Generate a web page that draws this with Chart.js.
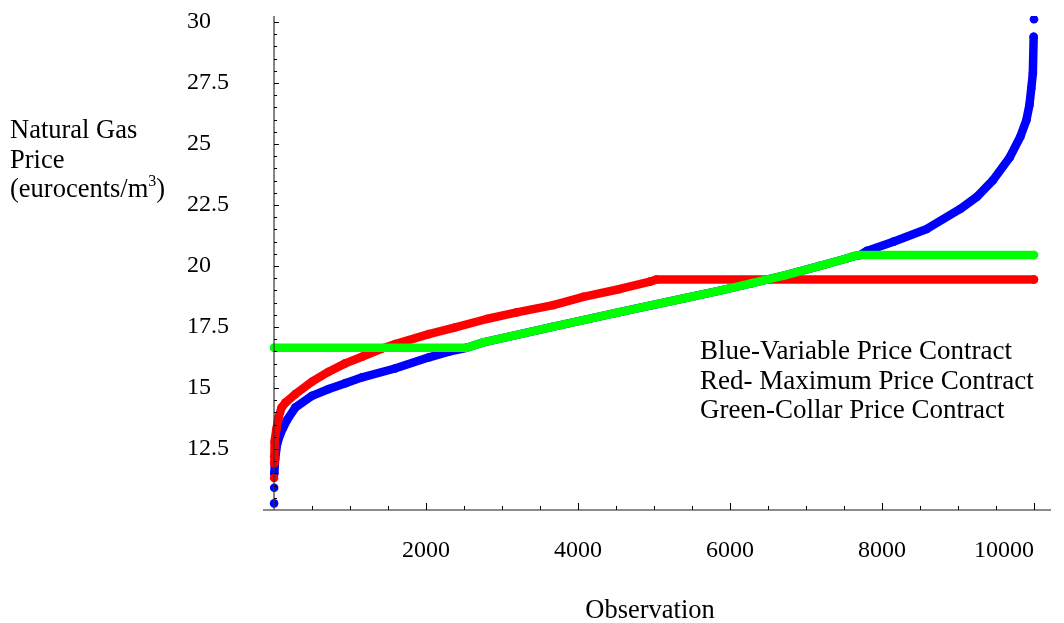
<!DOCTYPE html>
<html>
<head>
<meta charset="utf-8">
<script src="https://cdn.jsdelivr.net/npm/chart.js@4.4.0/dist/chart.umd.min.js"></script>
<style>
  html, body { margin: 0; padding: 0; background: #fff; }
  #wrap { width: 1064px; height: 623px; }
</style>
</head>
<body>
<div id="wrap"><canvas id="myChart" width="1064" height="623"></canvas></div>
<script>
// sorted prices per observation
var blueX = [1, 2, 4, 15, 40, 80, 118, 171, 280, 500, 720, 940, 1160, 1590, 2040, 2300, 2535, 2754, 3650, 4530, 5400, 5868, 6290, 6720, 7184, 7535, 7622, 7710, 7800, 8150, 8590, 9030, 9250, 9460, 9680, 9820, 9900, 9940, 9965, 9985, 9996, 10000];
var blueY = [10.27, 10.91, 11.5, 12.1, 12.7, 13.1, 13.36, 13.69, 14.2, 14.68, 14.96, 15.2, 15.44, 15.8, 16.26, 16.49, 16.65, 16.87, 17.5, 18.1, 18.68, 18.99, 19.3, 19.62, 20.01, 20.31, 20.4, 20.45, 20.62, 21.0, 21.52, 22.34, 22.84, 23.52, 24.45, 25.3, 25.98, 26.6, 27.3, 27.9, 29.4, 30.12];

var redX = [1, 2, 3, 10, 30, 60, 100, 150, 280, 500, 720, 938, 1158, 1421, 1596, 2036, 2386, 2798, 3193, 3675, 4070, 4553, 4947, 5030, 10000];
var redY = [11.31, 11.93, 12.2, 12.8, 13.3, 13.8, 14.2, 14.4, 14.75, 15.26, 15.67, 16.01, 16.28, 16.62, 16.8, 17.21, 17.49, 17.83, 18.1, 18.4, 18.74, 19.06, 19.36, 19.45, 19.45];

var greenX = [1, 2535, 2754, 3650, 4530, 5400, 5868, 6290, 6720, 7184, 7535, 7622, 7710, 10000];
var greenY = [16.65, 16.65, 16.87, 17.5, 18.1, 18.68, 18.99, 19.3, 19.62, 20.01, 20.31, 20.4, 20.45, 20.45];

// lone dots at the ends (not part of the band)
var blueBand = [2, blueX.length - 2];
var redBand = [1, redX.length - 1];
var greenBand = [0, greenX.length - 1];

// 0 carries no label; it is there so the last label can sit inside the frame
var xTickValues = [0, 2000, 4000, 6000, 8000, 10000];
var xTickLabels = ['', '2000', '4000', '6000', '8000', '10000'];
var yTickValues = [12.5, 15, 17.5, 20, 22.5, 25, 27.5, 30];
var yTickLabels = ['12.5', '15', '17.5', '20', '22.5', '25', '27.5', '30'];

var legendLines = ['Blue-Variable Price Contract', 'Red- Maximum Price Contract', 'Green-Collar Price Contract'];

var FONT = "'Liberation Serif', 'Times New Roman', serif";

function toPoints(xs, ys) {
    return xs.map(function (x, i) { return { x: x, y: ys[i] }; });
}

function series(xs, ys, color, band) {
    return {
        data: toPoints(xs, ys),
        showLine: true,
        borderColor: color,
        backgroundColor: color,
        borderWidth: 8.5,
        borderCapStyle: 'round',
        borderJoinStyle: 'round',
        pointRadius: 4.3,
        pointBorderWidth: 0,
        pointBackgroundColor: color,
        segment: {
            borderColor: function (ctx) {
                return (ctx.p0DataIndex >= band[0] && ctx.p1DataIndex <= band[1]) ? color : 'rgba(0,0,0,0)';
            }
        }
    };
}

var framePlugin = {
    id: 'frame',
    afterDraw: function (chart) {
        var ctx = chart.ctx;
        var xs = chart.scales.x, ys = chart.scales.y;
        var area = chart.chartArea;
        var x0 = xs.getPixelForValue(0);
        ctx.save();

        // axes
        ctx.strokeStyle = '#666';
        ctx.lineWidth = 1.5;
        ctx.beginPath();
        ctx.moveTo(area.left, area.bottom);
        ctx.lineTo(area.right, area.bottom);
        ctx.stroke();
        ctx.strokeStyle = '#333';
        ctx.lineWidth = 1.2;
        ctx.beginPath();
        ctx.moveTo(x0, area.top);
        ctx.lineTo(x0, area.bottom);
        ctx.stroke();

        // tick marks pointing into the plot
        ctx.strokeStyle = '#000';
        ctx.lineWidth = 1;
        ctx.beginPath();
        for (var v = 500; v <= 10000; v += 500) {
            var px = Math.round(xs.getPixelForValue(v)) + 0.5;
            var len = (v % 2000 === 0) ? 7 : 4;
            ctx.moveTo(px, area.bottom);
            ctx.lineTo(px, area.bottom - len);
        }
        for (var k = 21; k <= 60; k++) {
            var val = k / 2;
            var py = Math.round(ys.getPixelForValue(val)) + 0.5;
            var l2 = (k % 5 === 0) ? 5 : 3;
            ctx.moveTo(x0, py);
            ctx.lineTo(x0 + l2, py);
        }
        ctx.stroke();

        // texts
        ctx.fillStyle = '#000';
        ctx.textBaseline = 'alphabetic';
        ctx.font = '26.5px ' + FONT;
        ctx.textAlign = 'left';
        ctx.fillText('Natural Gas', 10, 138);
        ctx.fillText('Price', 10, 168);
        var t = '(eurocents/m';
        ctx.fillText(t, 10, 197);
        var w = ctx.measureText(t).width;
        ctx.font = '16px ' + FONT;
        ctx.fillText('3', 10 + w, 186);
        var w3 = ctx.measureText('3').width;
        ctx.font = '26.5px ' + FONT;
        ctx.fillText(')', 10 + w + w3, 197);

        ctx.font = '27px ' + FONT;
        legendLines.forEach(function (s, i) {
            ctx.fillText(s, 700, 359 + i * 29.5);
        });

        ctx.font = '26.5px ' + FONT;
        ctx.textAlign = 'center';
        ctx.fillText('Observation', 650, 618);
        ctx.restore();
    }
};

var chart = new Chart('myChart', {
    type: 'scatter',
    data: {
        datasets: [
            series(greenX, greenY, '#00ff00', greenBand),
            series(redX, redY, '#ff0000', redBand),
            series(blueX, blueY, '#0000ff', blueBand)
        ]
    },
    options: {
        responsive: false,
        animation: false,
        devicePixelRatio: 1,
        layout: { padding: { left: 187, right: 13, top: 16, bottom: 0 } },
        plugins: { legend: { display: false }, tooltip: { enabled: false } },
        scales: {
            x: {
                type: 'linear',
                min: -145,
                max: 10224,
                grid: { display: false, drawTicks: false },
                border: { display: false },
                afterBuildTicks: function (s) { s.ticks = xTickValues.map(function (v) { return { value: v }; }); },
                afterFit: function (s) { s.height = 113; s.paddingLeft = 0; s.paddingRight = 0; },
                ticks: {
                    autoSkip: false,
                    maxRotation: 0,
                    align: 'inner',
                    padding: 26,
                    color: '#000',
                    font: { family: FONT, size: 24 },
                    callback: function (v, i) { return xTickLabels[i]; }
                }
            },
            y: {
                type: 'linear',
                position: 'left',
                min: 10,
                max: 30.25,
                grid: { display: false, drawTicks: false },
                border: { display: false },
                afterBuildTicks: function (s) { s.ticks = yTickValues.map(function (v) { return { value: v }; }); },
                afterFit: function (s) { s.width = 76; s.paddingTop = 0; s.paddingBottom = 0; },
                ticks: {
                    autoSkip: false,
                    crossAlign: 'far',
                    padding: 0,
                    color: '#000',
                    font: { family: FONT, size: 24 },
                    callback: function (v, i) { return yTickLabels[i]; }
                }
            }
        }
    },
    plugins: [framePlugin]
});
</script>
</body>
</html>
